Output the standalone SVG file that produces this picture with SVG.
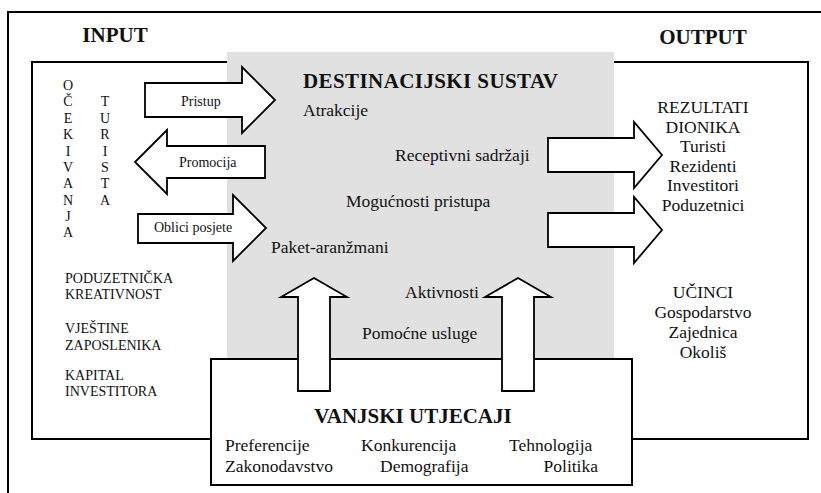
<svg xmlns="http://www.w3.org/2000/svg" width="821" height="493" viewBox="0 0 821 493" font-family="'Liberation Serif', Tinos, 'Times New Roman', 'DejaVu Serif', serif">
<style>
.frame{fill:none;stroke:#000;stroke-width:2}
.arrow{fill:#fff;stroke:#000;stroke-width:1.8;stroke-linejoin:miter}
.box{fill:#fff;stroke:#000;stroke-width:2}
text{font-family:'Liberation Serif', Tinos, 'Times New Roman', 'DejaVu Serif', serif;fill:#111}
.title{font-weight:bold;font-size:21px}
.reg{font-size:17.5px}
.small{font-size:14px}
.list{font-size:14px}
.vert{font-size:14px;text-anchor:middle}
.mid{text-anchor:middle}
</style>
<rect width="821" height="493" fill="#fff"/>
<g id="frame">
<path class="frame" d="M821,12 H8 V493"/>
</g>
<g id="system">
<rect x="227" y="52" width="387" height="306" fill="#e1e1e1"/>
<text class="title" x="303" y="88" textLength="255">DESTINACIJSKI SUSTAV</text>
<text class="reg" x="303" y="116">Atrakcije</text>
<text class="reg" x="395" y="161">Receptivni sadržaji</text>
<text class="reg" x="346" y="207">Mogućnosti pristupa</text>
<text class="reg" x="271" y="253">Paket-aranžmani</text>
<text class="reg" x="405" y="298">Aktivnosti</text>
<text class="reg" x="362" y="339">Pomoćne usluge</text>
</g>
<g id="input">
<path class="frame" d="M227,62 H32 V439 H211"/>
<text class="title mid" x="115" y="42">INPUT</text>
<g class="vert">
<text class="vert" x="68" y="90">O</text>
<text class="vert" x="68" y="106.4">Č</text>
<text class="vert" x="68" y="122.8">E</text>
<text class="vert" x="68" y="139.1">K</text>
<text class="vert" x="68" y="155.5">I</text>
<text class="vert" x="68" y="171.9">V</text>
<text class="vert" x="68" y="188.3">A</text>
<text class="vert" x="68" y="204.6">N</text>
<text class="vert" x="68" y="221">J</text>
<text class="vert" x="68" y="237.4">A</text>
<text class="vert" x="105" y="106.4">T</text>
<text class="vert" x="105" y="122.8">U</text>
<text class="vert" x="105" y="139.1">R</text>
<text class="vert" x="105" y="155.5">I</text>
<text class="vert" x="105" y="171.9">S</text>
<text class="vert" x="105" y="188.3">T</text>
<text class="vert" x="105" y="204.6">A</text>
</g>
<text class="list" x="65" y="283">PODUZETNIČKA</text>
<text class="list" x="65" y="299">KREATIVNOST</text>
<text class="list" x="65" y="333">VJEŠTINE</text>
<text class="list" x="65" y="350">ZAPOSLENIKA</text>
<text class="list" x="65" y="380">KAPITAL</text>
<text class="list" x="65" y="396">INVESTITORA</text>
</g>
<g id="output">
<path class="frame" d="M614,62 H808 V439 H632"/>
<text class="title mid" x="703" y="44">OUTPUT</text>
<text class="reg mid" x="703" y="113">REZULTATI</text>
<text class="reg mid" x="703" y="132.5">DIONIKA</text>
<text class="reg mid" x="703" y="152">Turisti</text>
<text class="reg mid" x="703" y="171.5">Rezidenti</text>
<text class="reg mid" x="703" y="191">Investitori</text>
<text class="reg mid" x="703" y="210.5">Poduzetnici</text>
<text class="reg mid" x="703" y="298">UČINCI</text>
<text class="reg mid" x="703" y="318">Gospodarstvo</text>
<text class="reg mid" x="703" y="338">Zajednica</text>
<text class="reg mid" x="703" y="358">Okoliš</text>
</g>
<g id="external">
<rect class="box" x="211" y="359" width="421" height="126"/>
<text class="title mid" x="413" y="423">VANJSKI UTJECAJI</text>
<text class="reg" x="225" y="451">Preferencije</text>
<text class="reg" x="361" y="451">Konkurencija</text>
<text class="reg" x="509" y="451">Tehnologija</text>
<text class="reg" x="225" y="472">Zakonodavstvo</text>
<text class="reg" x="380" y="472">Demografija</text>
<text class="reg" x="598" y="472" text-anchor="end">Politika</text>
</g>
<g id="connectors">
<polygon class="arrow" points="145,83 242,83 242,67 275,100 242,133 242,117 145,117"/>
<polygon class="arrow" points="265,146 167,146 167,130 135,162 167,194 167,178 265,178"/>
<polygon class="arrow" points="138,214 233,214 233,195 266,228 233,261 233,243 138,243"/>
<polygon class="arrow" points="548,138 634,138 634,122 662,155 634,188 634,172 548,172"/>
<polygon class="arrow" points="548,213 634,213 634,197 662,230 634,263 634,247 548,247"/>
<polygon class="arrow" points="298,391 298,297 281,297 314,278 347,297 330,297 330,391"/>
<polygon class="arrow" points="502,391 502,297 485,297 518,278 551,297 534,297 534,391"/>
<text class="small" x="181" y="106">Pristup</text>
<text class="small" x="179" y="167">Promocija</text>
<text class="small" x="154" y="232">Oblici posjete</text>
</g>
</svg>
